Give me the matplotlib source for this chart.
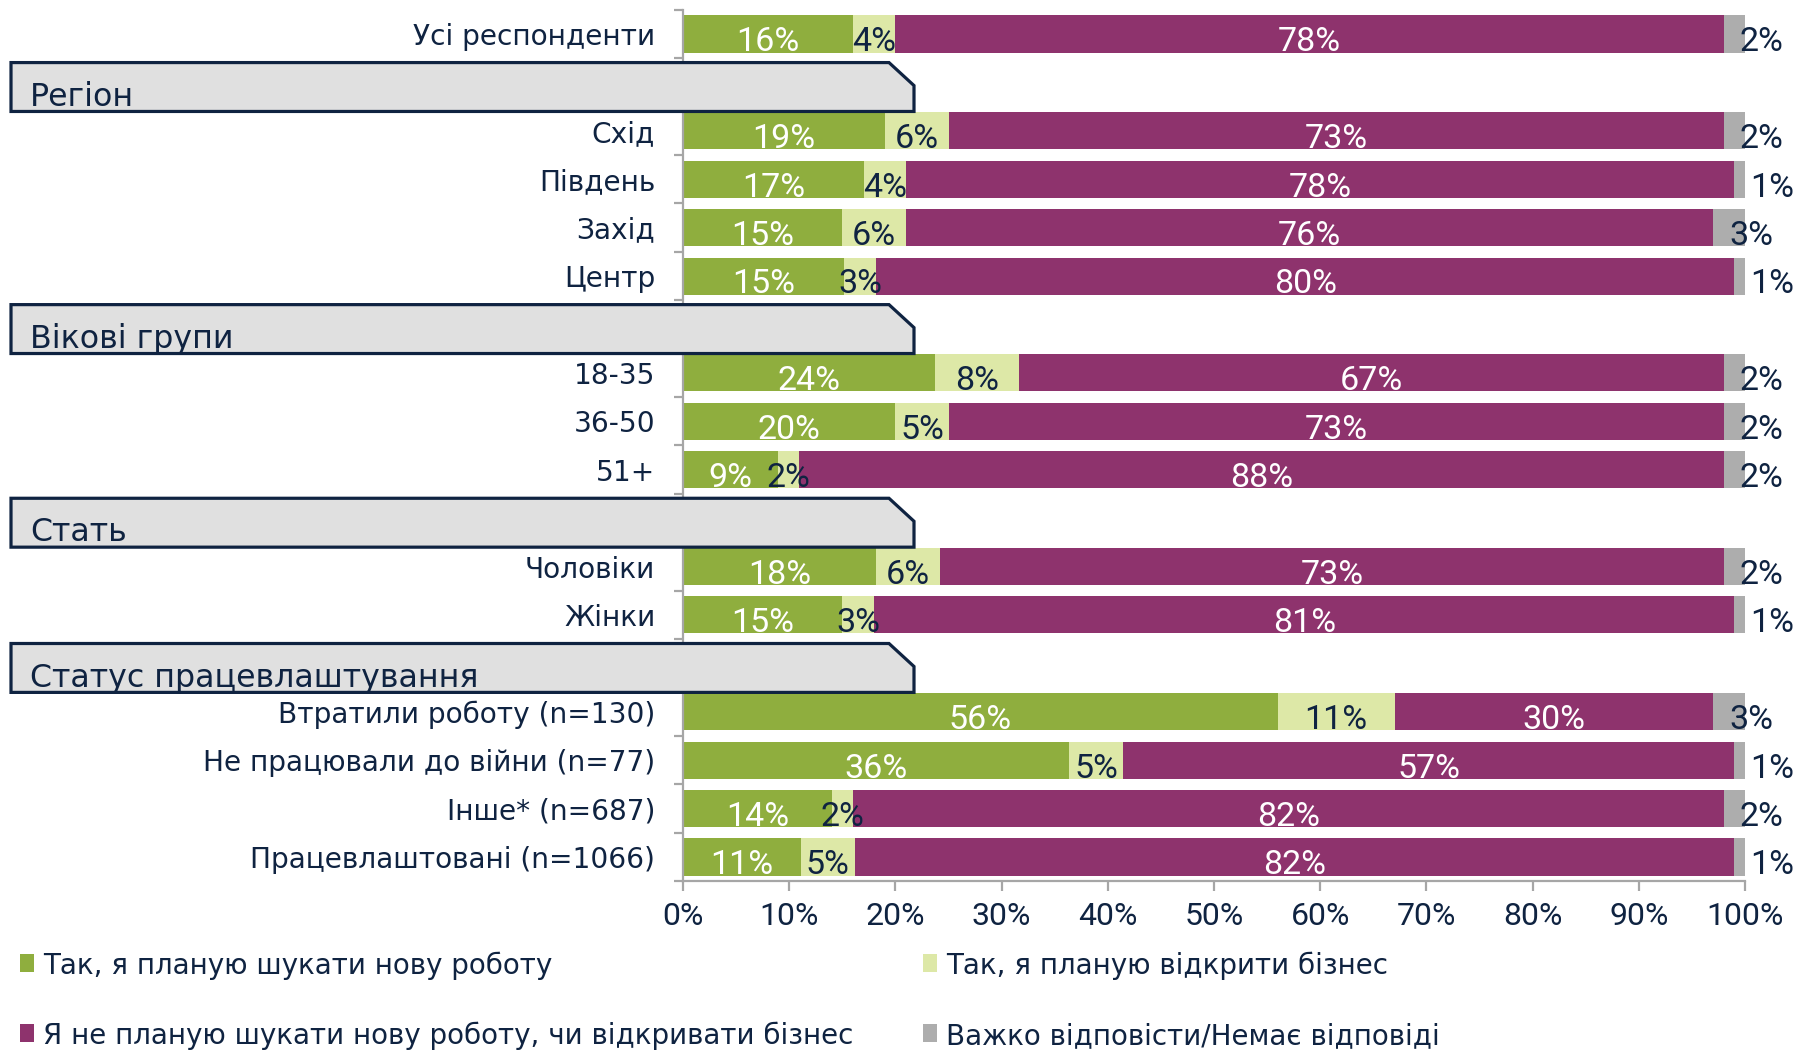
import matplotlib
matplotlib.use("Agg")
import matplotlib.pyplot as plt
from matplotlib import font_manager as fm
from matplotlib.patches import Polygon, Rectangle
from matplotlib.transforms import blended_transform_factory
import numpy as np

# ---- data -------------------------------------------------------------
row_labels = [
    "Усі респонденти",
    "Схід", "Південь", "Захід", "Центр",
    "18-35", "36-50", "51+",
    "Чоловіки", "Жінки",
    "Втратили роботу (n=130)", "Не працювали до війни (n=77)",
    "Інше* (n=687)", "Працевлаштовані (n=1066)",
]
group_titles = ["Регіон", "Вікові групи", "Стать", "Статус працевлаштування"]
group_sizes = [4, 3, 2, 4]

series_names = [
    "Так, я планую шукати нову роботу",
    "Так, я планую відкрити бізнес",
    "Я не планую шукати нову роботу, чи відкривати бізнес",
    "Важко відповісти/Немає відповіді",
]
seek_job = [16, 19, 17, 15, 15, 24, 20, 9, 18, 15, 56, 36, 14, 11]
open_business = [4, 6, 4, 6, 3, 8, 5, 2, 6, 3, 11, 5, 2, 5]
not_planning = [78, 73, 78, 76, 80, 67, 73, 88, 73, 81, 30, 57, 82, 82]
hard_to_say = [2, 2, 1, 3, 1, 2, 2, 2, 2, 1, 3, 1, 2, 1]

x_ticks = [0, 10, 20, 30, 40, 50, 60, 70, 80, 90, 100]
x_tick_labels = [f"{t}%" for t in x_ticks]

# ---- style ------------------------------------------------------------
colors = ["#8FAE3E", "#DDE8A7", "#8E336D", "#ADADAD"]
label_colors = ["white", "#0F2341", "white", "#0F2341"]
navy = "#0F2341"
axis_gray = "#A6A6A6"

names = {f.name for f in fm.fontManager.ttflist}
num_family = "Roboto" if "Roboto" in names else "DejaVu Sans"
txt_kw = dict(family="DejaVu Sans")
num_kw = dict(family=[num_family, "DejaVu Sans"])

W, H = 1795, 1051
fig = plt.figure(figsize=(W / 100, H / 100), dpi=100)
fig.patch.set_facecolor("white")

n_slots = 1 + sum(g + 1 for g in group_sizes)
ax_left, ax_right = 683 / W, 1745 / W
ax_top_px, ax_bot_px = 9.8, 881.2
ax = fig.add_axes([ax_left, 1 - ax_bot_px / H, ax_right - ax_left, (ax_bot_px - ax_top_px) / H])

# slot layout: first row, then a header slot followed by the group's rows
row_pos = [0]
header_pos = []
slot = 1
for g in group_sizes:
    header_pos.append(slot)
    slot += 1
    for _ in range(g):
        row_pos.append(slot)
        slot += 1
row_pos = np.array(row_pos, dtype=float)

values = np.array([seek_job, open_business, not_planning, hard_to_say], dtype=float)
shares = values / values.sum(axis=0) * 100  # 100% stacked

bar_h = 0.765
left = np.zeros(len(row_labels))
for k in range(4):
    ax.barh(row_pos, shares[k], left=left, height=bar_h, color=colors[k],
            edgecolor="none", zorder=2)
    for i in range(len(row_labels)):
        v = int(values[k, i])
        if k == 3:
            x, ha = left[i] + 1.5, "left"
        else:
            x, ha = left[i] + shares[k, i] / 2, "center"
        ax.text(x, row_pos[i] + 0.36, f"{v}%", ha=ha, va="baseline",
                color=label_colors[k], fontsize=24.5, zorder=4, clip_on=False, **num_kw)
    left += shares[k]

ax.set_xlim(0, 100)
ax.set_ylim(n_slots - 0.5, -0.5)

for s in ("top", "right"):
    ax.spines[s].set_visible(False)
for s in ("left", "bottom"):
    ax.spines[s].set_color(axis_gray)
    ax.spines[s].set_linewidth(1.6)

ax.set_yticks(row_pos)
ax.set_yticklabels(row_labels, color=navy, fontsize=20.2, **txt_kw)
ax.set_yticks(np.arange(-0.5, n_slots, 1.0), minor=True)
ax.tick_params(axis="y", which="major", length=0, pad=20)
ax.tick_params(axis="y", which="minor", length=6.5, width=1.6, color=axis_gray, direction="out")

ax.set_xticks(x_ticks)
ax.set_xticklabels(x_tick_labels, color=navy, fontsize=23, **num_kw)
ax.tick_params(axis="x", which="major", length=7, width=1.6, color=axis_gray, direction="out", pad=8)

# group header tabs
tr = blended_transform_factory(fig.transFigure, ax.transData)
xl, xs, xr = 11 / W, 889 / W, 914 / W
for title, pos in zip(group_titles, header_pos):
    top, bot = pos - 0.41, pos + 0.60
    poly = Polygon([(xl, top), (xs, top), (xr, top + 0.475), (xr, bot), (xl, bot)],
                   closed=True, transform=tr, facecolor="#E0E0E0", edgecolor=navy,
                   linewidth=2.3, clip_on=False, zorder=6, joinstyle="miter")
    ax.add_patch(poly)
    ax.text(30 / W, bot - 0.12, title, transform=tr, ha="left", va="baseline",
            color=navy, fontsize=22.8, zorder=7, clip_on=False, **txt_kw)

# legend
leg_items = [(20, 963), (923, 963), (20, 1033), (923, 1033)]
for (lx, ly), name, c in zip(leg_items, series_names, colors):
    fig.patches.append(Rectangle((lx / W, 1 - (ly + 9) / H), 14 / W, 18 / H,
                                 transform=fig.transFigure, facecolor=c, edgecolor="none"))
    fig.text((lx + 23) / W, 1 - ly / H, name, ha="left", va="center_baseline",
             color=navy, fontsize=20.0, **txt_kw)

fig.savefig("out.png", dpi=100, facecolor="white")
